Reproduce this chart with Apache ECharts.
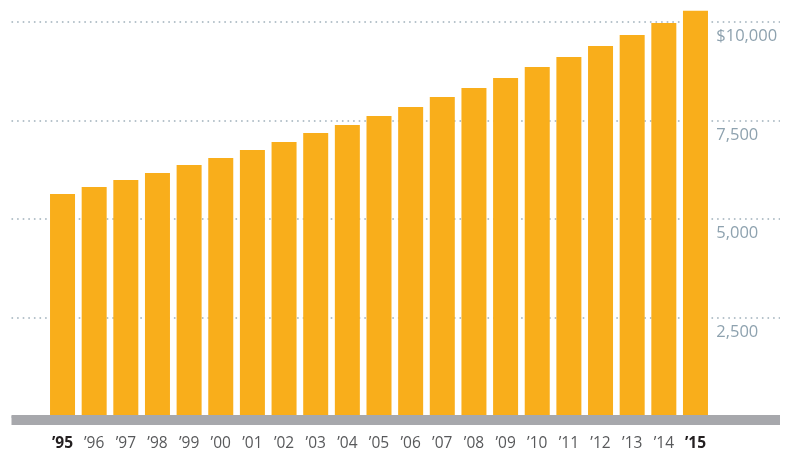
<!DOCTYPE html>
<html>
<head>
<meta charset="utf-8">
<script src="https://cdn.jsdelivr.net/npm/echarts@6/dist/echarts.min.js"></script>
<style>html,body{margin:0;padding:0;background:#fff;}#c{width:792px;height:453px;}</style>
</head>
<body>
<div id="c"></div>
<script>
var categories = ['95','96','97','98','99','00','01','02','03','04','05','06','07','08','09','10','11','12','13','14','15'];
var values = [5637,5814,5992,6169,6371,6548,6750,6950,7180,7385,7610,7840,8090,8320,8570,8850,9100,9380,9660,9960,10270];
var yTicks = [0,2500,5000,7500,10000];
var boldCats = ['95','15'];

var chart = echarts.init(document.getElementById('c'), null, {renderer:'canvas'});
var TOP = 21.5, BOTTOM = 36.1;
var option = {
  animation: false,
  backgroundColor: '#ffffff',
  grid: [
    {left: 11.5, right: 12, top: TOP, bottom: BOTTOM},
    {left: 46.7, right: 80.7, top: TOP, bottom: BOTTOM}
  ],
  xAxis: [
    {gridIndex: 0, type: 'value', min: 0, max: 1, z: 5,
     axisLine: {show: true, onZero: false, lineStyle: {color: '#a7a8ac', width: 10, cap: 'butt'}},
     offset: 3, axisTick: {show: false}, axisLabel: {show: false}, splitLine: {show: false}},
    {gridIndex: 1, type: 'category', data: categories,
     axisLine: {show: false}, axisTick: {show: false},
     axisLabel: {
       interval: 0, margin: 19,
       fontFamily: 'Open Sans', fontSize: 15.5, color: '#58595b',
       formatter: function (v) {
         return boldCats.indexOf(v) >= 0 ? '{b|\u2019' + v + '}' : '\u2019' + v;
       },
       rich: {b: {fontFamily: 'Open Sans', fontSize: 15.5, fontWeight: 'bold', color: '#231f20'}}
     }}
  ],
  yAxis: [
    {gridIndex: 0, type: 'value', min: yTicks[0], max: yTicks[yTicks.length-1], interval: 2500, z: 0,
     axisLine: {show: false}, axisTick: {show: false}, axisLabel: {show: false},
     splitLine: {show: true, lineStyle: {color: '#9fb0bb', width: 1.6, type: [1.6, 4]}}},
    {gridIndex: 1, type: 'value', position: 'right', min: yTicks[0], max: yTicks[yTicks.length-1], interval: 2500,
     axisLine: {show: false}, axisTick: {show: false}, splitLine: {show: false},
     axisLabel: {
       showMinLabel: false, margin: 5, verticalAlign: 'top', padding: [6,0,0,0],
       fontFamily: 'Open Sans', fontSize: 16.5, color: '#8ea2af',
       formatter: function (v) {
         var s = v.toLocaleString('en-US');
         return v === 10000 ? '$' + s : s;
       }
     }}
  ],
  series: [{
    type: 'bar', xAxisIndex: 1, yAxisIndex: 1, data: values, clip: false,
    barCategoryGap: '21%', itemStyle: {color: '#f9ae1b'}, z: 2
  }]
};
chart.setOption(option);
</script>
</body>
</html>
